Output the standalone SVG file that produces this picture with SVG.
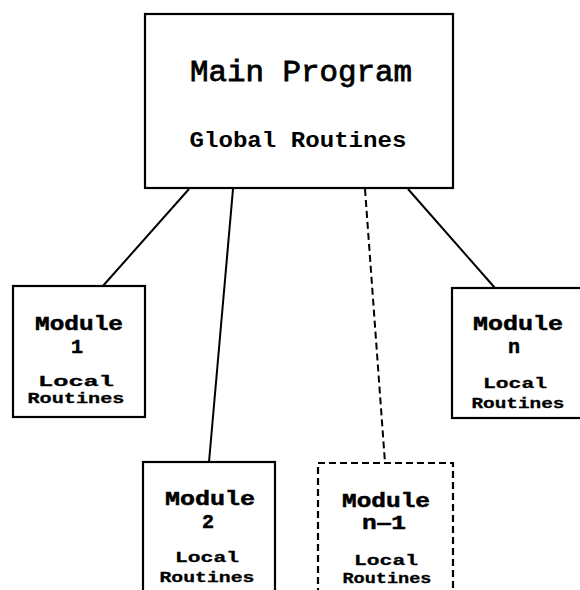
<svg xmlns="http://www.w3.org/2000/svg" width="580" height="590" viewBox="0 0 580 590">
<style>
.box{fill:#fff;stroke:#000;stroke-width:2.2}
.dash{stroke-dasharray:7 4}
.ln{stroke:#000;stroke-width:2;fill:none}
text{font-family:"Liberation Mono","DejaVu Sans Mono",monospace;font-weight:bold;fill:#000;text-anchor:middle}
.t1{font-size:30px;font-weight:normal;stroke:#000;stroke-width:0.8}
.t2{font-size:22px}
.m{font-size:20px;stroke:#000;stroke-width:0.5}
.s{font-size:15px;stroke:#000;stroke-width:0.3}
</style>
<rect width="580" height="590" fill="#fff"/>
<g id="connectors">
<line class="ln" x1="189" y1="189" x2="102" y2="287"/>
<line class="ln" x1="233" y1="189" x2="209" y2="462"/>
<line class="ln dash" x1="365" y1="189" x2="385" y2="463"/>
<line class="ln" x1="408" y1="189" x2="495" y2="288"/>
</g>
<g id="main">
<rect class="box" x="145" y="14" width="308" height="174"/>
<text class="t1" x="301" y="81" textLength="222" lengthAdjust="spacingAndGlyphs">Main Program</text>
<text class="t2" x="298" y="147" textLength="217" lengthAdjust="spacingAndGlyphs">Global Routines</text>
</g>
<g id="module1">
<rect class="box" x="13" y="286" width="132" height="131"/>
<text class="m" x="79" y="330" textLength="88" lengthAdjust="spacingAndGlyphs">Module</text>
<text class="m" x="77" y="353">1</text>
<text class="s" x="76" y="386" textLength="76" lengthAdjust="spacingAndGlyphs">Local</text>
<text class="s" x="76" y="403" textLength="97" lengthAdjust="spacingAndGlyphs">Routines</text>
</g>
<g id="modulen">
<rect class="box" x="452" y="288" width="140" height="130"/>
<text class="m" x="518" y="330" textLength="90" lengthAdjust="spacingAndGlyphs">Module</text>
<text class="m" x="514" y="353">n</text>
<text class="s" x="515" y="388" textLength="64" lengthAdjust="spacingAndGlyphs">Local</text>
<text class="s" x="518" y="408" textLength="93" lengthAdjust="spacingAndGlyphs">Routines</text>
</g>
<g id="module2">
<rect class="box" x="143" y="462" width="132" height="140"/>
<text class="m" x="210" y="505" textLength="90" lengthAdjust="spacingAndGlyphs">Module</text>
<text class="m" x="208" y="528">2</text>
<text class="s" x="207" y="562" textLength="64" lengthAdjust="spacingAndGlyphs">Local</text>
<text class="s" x="207" y="582" textLength="95" lengthAdjust="spacingAndGlyphs">Routines</text>
</g>
<g id="modulen-1">
<rect class="box dash" x="318" y="463" width="135" height="140"/>
<text class="m" x="386" y="507" textLength="88" lengthAdjust="spacingAndGlyphs">Module</text>
<text class="m" x="384" y="529" textLength="44" lengthAdjust="spacingAndGlyphs">n‒1</text>
<text class="s" x="386" y="565" textLength="64" lengthAdjust="spacingAndGlyphs">Local</text>
<text class="s" x="387" y="583" textLength="89" lengthAdjust="spacingAndGlyphs">Routines</text>
</g>
</svg>
